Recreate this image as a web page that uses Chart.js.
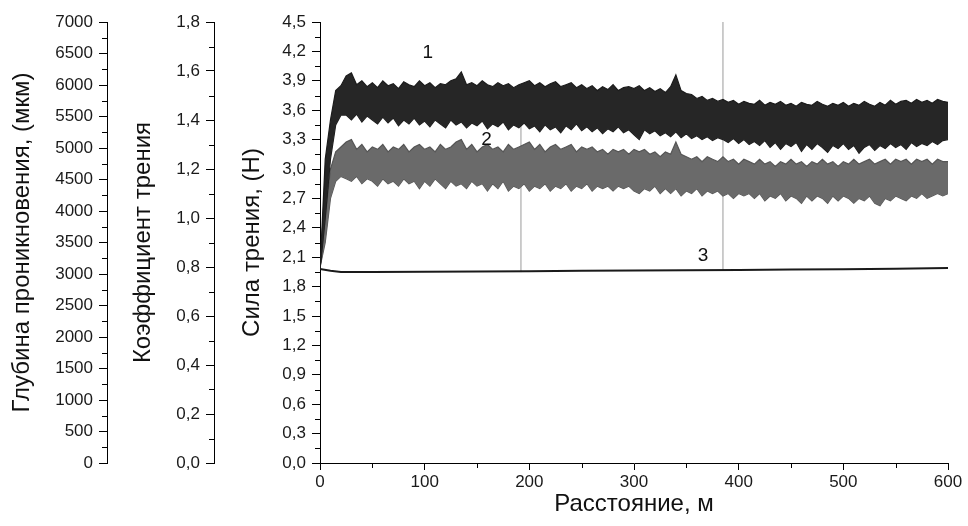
<!DOCTYPE html>
<html>
<head>
<meta charset="utf-8">
<script src="https://cdn.jsdelivr.net/npm/chart.js@4/dist/chart.umd.min.js"></script>
<style>
html,body{margin:0;padding:0;background:#fff;}
canvas{display:block;}
</style>
</head>
<body>
<canvas id="c" width="968" height="526"></canvas>
<script>
// ---- data ----
const distance5 = [0,5,10,15,20,25,30,35,40,45,50,55,60,65,70,75,80,85,90,95,
100,105,110,115,120,125,130,135,140,145,150,155,160,165,170,175,180,185,190,195,
200,205,210,215,220,225,230,235,240,245,250,255,260,265,270,275,280,285,290,295,
300,305,310,315,320,325,330,335,340,345,350,355,360,365,370,375,380,385,390,395,
400,405,410,415,420,425,430,435,440,445,450,455,460,465,470,475,480,485,490,495,
500,505,510,515,520,525,530,535,540,545,550,555,560,565,570,575,580,585,590,595,600];
const distanceCore = [0,5,10,15,20,25,50,75,100,125,150,175,200,225,250,275,300,325,350,375,400,425,450,475,500,525,550,575,600];

// 1: friction force, N (upper / lower envelope of the noisy trace, and dense core)
const force1Upper = [1.97,3.10,3.50,3.80,3.85,3.95,3.98,3.86,3.90,3.84,
3.88,3.83,3.90,3.85,3.87,3.82,3.89,3.86,3.84,3.90,
3.85,3.88,3.83,3.87,3.86,3.90,3.92,3.99,3.86,3.88,
3.85,3.90,3.86,3.84,3.88,3.85,3.87,3.83,3.86,3.88,
3.90,3.85,3.88,3.84,3.87,3.89,3.84,3.86,3.88,3.83,
3.86,3.82,3.85,3.80,3.84,3.81,3.86,3.80,3.83,3.84,
3.82,3.85,3.80,3.83,3.79,3.82,3.78,3.84,3.96,3.80,
3.77,3.76,3.72,3.74,3.70,3.72,3.69,3.71,3.68,3.70,
3.66,3.69,3.67,3.66,3.70,3.65,3.68,3.66,3.69,3.65,
3.67,3.64,3.68,3.66,3.65,3.69,3.66,3.64,3.67,3.65,
3.68,3.64,3.67,3.65,3.69,3.66,3.64,3.68,3.65,3.70,
3.66,3.69,3.70,3.67,3.71,3.68,3.70,3.67,3.71,3.69,3.68];
const force1Lower = [1.97,2.50,3.10,3.45,3.55,3.55,3.50,3.56,3.48,3.54,
3.50,3.46,3.53,3.47,3.52,3.44,3.50,3.46,3.52,3.45,
3.49,3.43,3.50,3.46,3.42,3.50,3.45,3.48,3.42,3.47,
3.44,3.49,3.41,3.46,3.43,3.48,3.40,3.45,3.42,3.47,
3.41,3.44,3.38,3.45,3.40,3.43,3.37,3.44,3.40,3.46,
3.39,3.43,3.38,3.42,3.36,3.41,3.38,3.43,3.37,3.40,
3.35,3.30,3.40,3.36,3.39,3.34,3.37,3.33,3.38,3.32,
3.36,3.31,3.34,3.30,3.33,3.29,3.32,3.30,3.27,3.31,
3.26,3.30,3.25,3.28,3.24,3.29,3.22,3.27,3.20,3.26,
3.23,3.27,3.18,3.25,3.20,3.26,3.22,3.17,3.24,3.21,
3.26,3.20,3.24,3.16,3.22,3.25,3.19,3.24,3.21,3.26,
3.22,3.25,3.20,3.27,3.23,3.26,3.24,3.28,3.25,3.29,3.30];
const force1CoreUpper = [1.97,2.90,3.40,3.70,3.78,3.82,3.80,3.80,3.80,3.80,3.80,3.79,3.79,3.78,3.77,3.76,3.76,3.74,3.70,3.65,3.62,3.60,3.60,3.60,3.60,3.60,3.61,3.62,3.62];
const force1CoreLower = [1.97,2.70,3.25,3.55,3.62,3.63,3.62,3.60,3.60,3.59,3.58,3.57,3.56,3.55,3.54,3.53,3.50,3.48,3.46,3.44,3.42,3.40,3.38,3.38,3.37,3.37,3.38,3.39,3.40];

// 2: friction coefficient
const coef2Upper = [0.80,1.00,1.20,1.27,1.29,1.31,1.32,1.28,1.30,1.27,
1.29,1.28,1.30,1.27,1.29,1.28,1.30,1.27,1.29,1.30,
1.28,1.29,1.27,1.30,1.28,1.29,1.31,1.32,1.28,1.30,
1.27,1.29,1.30,1.28,1.29,1.27,1.30,1.28,1.29,1.30,
1.31,1.28,1.30,1.27,1.29,1.30,1.28,1.29,1.30,1.27,
1.29,1.28,1.29,1.27,1.28,1.26,1.28,1.27,1.28,1.26,
1.28,1.27,1.28,1.26,1.27,1.25,1.27,1.26,1.31,1.26,
1.25,1.24,1.25,1.23,1.25,1.24,1.23,1.25,1.23,1.24,
1.22,1.24,1.23,1.22,1.24,1.22,1.23,1.21,1.23,1.22,
1.24,1.22,1.23,1.21,1.23,1.22,1.24,1.22,1.23,1.21,
1.23,1.22,1.24,1.22,1.23,1.24,1.22,1.23,1.24,1.22,
1.24,1.23,1.24,1.22,1.24,1.23,1.24,1.22,1.24,1.23,1.23];
const coef2Lower = [0.80,0.90,1.08,1.15,1.17,1.16,1.15,1.17,1.14,1.16,
1.15,1.13,1.16,1.14,1.15,1.13,1.16,1.14,1.15,1.12,
1.15,1.13,1.16,1.14,1.12,1.15,1.13,1.14,1.12,1.15,
1.13,1.14,1.11,1.14,1.12,1.15,1.11,1.13,1.12,1.14,
1.11,1.13,1.12,1.14,1.11,1.13,1.12,1.14,1.11,1.13,
1.12,1.14,1.11,1.13,1.12,1.13,1.11,1.13,1.12,1.13,
1.11,1.10,1.12,1.11,1.13,1.10,1.12,1.10,1.12,1.09,
1.11,1.10,1.12,1.09,1.11,1.10,1.11,1.09,1.10,1.08,
1.10,1.09,1.10,1.08,1.10,1.07,1.09,1.08,1.10,1.07,
1.09,1.08,1.06,1.09,1.07,1.09,1.08,1.06,1.09,1.07,
1.09,1.08,1.06,1.08,1.07,1.09,1.06,1.05,1.08,1.07,
1.09,1.08,1.07,1.09,1.08,1.10,1.08,1.09,1.10,1.09,1.10];
const coef2CoreUpper = [0.80,0.97,1.15,1.23,1.26,1.27,1.26,1.26,1.26,1.26,1.26,1.26,1.26,1.26,1.25,1.25,1.25,1.24,1.23,1.22,1.21,1.20,1.20,1.20,1.20,1.20,1.20,1.20,1.20];
const coef2CoreLower = [0.80,0.92,1.10,1.18,1.20,1.20,1.19,1.19,1.19,1.18,1.18,1.18,1.18,1.18,1.17,1.17,1.17,1.16,1.15,1.14,1.14,1.13,1.13,1.13,1.13,1.13,1.13,1.13,1.13];

// 3: penetration depth, um
const depthX = [0,10,20,50,100,150,200,250,300,350,400,450,500,550,600];
const depth3 = [3080,3050,3030,3030,3035,3040,3045,3050,3055,3060,3065,3070,3075,3085,3095];

// thin vertical spikes in the record
const spikeX = [192,385];
const spikeBase = [3030,3060];
const spikeTop = [5800,7000];

// curve labels
const curveNames = ['1','2','3'];
const curveLabelX = [103,159,366];
const curveLabelForce = [4.19,3.30,2.11];

// tick settings
const xTicks = {min:0,max:600,step:100};
const forceTicks = {min:0,max:4.5,step:0.3};
const coefTicks = {min:0,max:1.8,step:0.2};
const depthTicks = {min:0,max:7000,step:500};

// ---- helpers ----
const pts = (xs, ys) => xs.map((x,i)=>({x, y: ys[i]}));
const spikePts = [];
spikeX.forEach((x,i)=>{ spikePts.push({x,y:spikeBase[i]},{x,y:spikeTop[i]},{x,y:null}); });

const FONT = "'Liberation Sans', Arial, sans-serif";
const TICK_SIZE = 17, TITLE_SIZE = 24;
const comma = v => (Math.round(v*10)/10).toFixed(1).replace('.', ',');

function band(data, yAxisID, color, fillColor, fill, bw){
  return {data, yAxisID, borderColor: color, backgroundColor: fillColor, fill,
    borderWidth: bw, pointRadius: 0, tension: 0};
}

const datasets = [
  band(pts(distance5, force1Upper), 'yForce', '#1c1c1c', '#262626', '+1', 1.2),
  band(pts(distance5, force1Lower), 'yForce', '#1c1c1c', '#262626', false, 1.2),
  band(pts(distanceCore, force1CoreUpper), 'yForce', '#060606', '#060606', '+1', 1),
  band(pts(distanceCore, force1CoreLower), 'yForce', '#060606', '#060606', false, 1),
  band(pts(distance5, coef2Upper), 'yCoef', '#555', '#6a6a6a', '+1', 1.2),
  band(pts(distance5, coef2Lower), 'yCoef', '#555', '#6a6a6a', false, 1.2),
  band(pts(distanceCore, coef2CoreUpper), 'yCoef', '#4c4c4c', '#4c4c4c', '+1', 1),
  band(pts(distanceCore, coef2CoreLower), 'yCoef', '#4c4c4c', '#4c4c4c', false, 1),
  {data: pts(depthX, depth3), yAxisID:'yDepth', borderColor:'#1a1a1a', borderWidth:2, pointRadius:0, fill:false, tension:0},
  {data: spikePts, yAxisID:'yDepth', borderColor:'#9a9a9a', borderWidth:1, pointRadius:0, fill:false, spanGaps:false, order:5}
];

function yAxis(t, weight, title, fmt, width, titlePad){
  return {
    type:'linear', position:'left', weight, min:t.min, max:t.max,
    border:{display:true, color:'#000', width:1},
    grid:{drawOnChartArea:false, drawTicks:true, tickLength:8, color:'#000', tickColor:'#000'},
    ticks:{stepSize:t.step, color:'#1a1a1a', padding:6, font:{family:FONT, size:TICK_SIZE}, callback:fmt, autoSkip:false},
    title:{display:true, text:title, color:'#111', font:{family:FONT, size:TITLE_SIZE}, padding:{top:titlePad, bottom:0}},
    afterFit(s){ s.width = width; },
    minorStep: t.step/2
  };
}

const minorTicks = {
  id:'minorTicks',
  afterDraw(chart){
    const ctx = chart.ctx;
    ctx.save();
    ctx.strokeStyle = '#000';
    ctx.lineWidth = 1;
    Object.values(chart.scales).forEach(s=>{
      const step = s.options.minorStep;
      if(!step) return;
      for(let v = s.min + step; v < s.max; v += 2*step){
        const p = Math.round(s.getPixelForValue(v)) + 0.5;
        ctx.beginPath();
        if(s.isHorizontal()){ ctx.moveTo(p, s.top); ctx.lineTo(p, s.top+5); }
        else { ctx.moveTo(s.right, p); ctx.lineTo(s.right-5, p); }
        ctx.stroke();
      }
    });
    ctx.restore();
  }
};

const curveLabels = {
  id:'curveLabels',
  afterDatasetsDraw(chart){
    const ctx = chart.ctx, x = chart.scales.x, y = chart.scales.yForce;
    ctx.save();
    ctx.fillStyle = '#111';
    ctx.font = '19px ' + FONT;
    ctx.textAlign = 'center'; ctx.textBaseline = 'middle';
    curveNames.forEach((n,i)=>{
      ctx.fillText(n, x.getPixelForValue(curveLabelX[i]), y.getPixelForValue(curveLabelForce[i]));
    });
    ctx.restore();
  }
};

new Chart(document.getElementById('c'), {
  type:'line',
  data:{datasets},
  options:{
    responsive:false, animation:false, devicePixelRatio:1,
    layout:{padding:{top:22, right:20, left:0, bottom:0}},
    plugins:{legend:{display:false}, tooltip:{enabled:false}},
    scales:{
      x:{
        type:'linear', position:'bottom', min:xTicks.min, max:xTicks.max,
        border:{display:true, color:'#000', width:1},
        grid:{drawOnChartArea:false, drawTicks:true, tickLength:7, color:'#000', tickColor:'#000'},
        ticks:{stepSize:xTicks.step, color:'#1a1a1a', padding:2, font:{family:FONT, size:TICK_SIZE}, callback:v=>String(v), maxRotation:0},
        title:{display:true, text:'Расстояние, м', color:'#111', font:{family:FONT, size:TITLE_SIZE}, padding:{top:0, bottom:7}},
        afterFit(s){ s.height = 63; },
        minorStep: xTicks.step/2
      },
      yForce: yAxis(forceTicks, 1, 'Сила трения, (Н)', comma, 106, 24),
      yCoef: yAxis(coefTicks, 2, 'Коэффициент трения', comma, 107, 22),
      yDepth: yAxis(depthTicks, 3, 'Глубина проникновения, (мкм)', v=>String(v), 107, 8)
    }
  },
  plugins:[minorTicks, curveLabels]
});
</script>
</body>
</html>
